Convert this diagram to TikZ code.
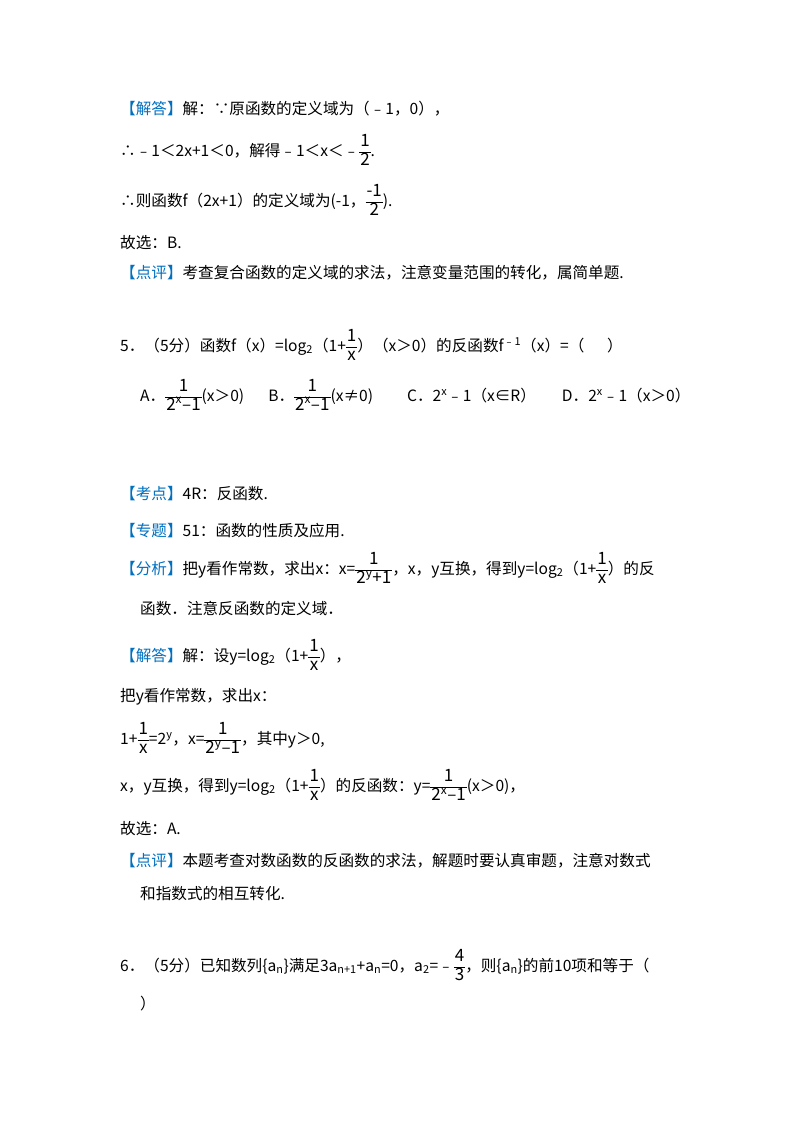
\documentclass[tikz,border=0pt]{standalone}
\usepackage{amsmath}
\usepackage{fontspec}
\setmainfont{Noto Sans CJK SC}
\definecolor{hb}{RGB}{0,112,192}
\newcommand{\hd}[1]{\textcolor{hb}{【#1】}}
\newcommand{\fr}[2]{$\vcenter{\hbox{\fontsize{17}{18}\selectfont\setlength{\tabcolsep}{1pt}\renewcommand{\arraystretch}{1.0}\begin{tabular}{c}#1\\\hline #2\end{tabular}}}$}
\begin{document}
\begin{tikzpicture}[x=1pt,y=1pt,every node/.style={anchor=base west,inner sep=0pt,font=\fontsize{15.6}{18}\selectfont}]
\useasboundingbox[fill=white] (0,0) rectangle (800,-1132);
\node (l1) at (120,-114) {\hd{解答}解：∵原函数的定义域为（﹣1，0），};
\node (l2) at (120,-156) {∴﹣1＜2x+1＜0，解得﹣1＜x＜﹣\fr{1}{2}.};
\node (l3) at (120,-206) {∴则函数f（2x+1）的定义域为(-1，\fr{-1}{2}).};
\node (l4) at (120,-248) {故选：B.};
\node (l5) at (120,-278) {\hd{点评}考查复合函数的定义域的求法，注意变量范围的转化，属简单题.};
\node (l6) at (120,-351) {5．（5分）函数f（x）=log\textsubscript{2}（1+\fr{1}{x}）（x＞0）的反函数f\textsuperscript{﹣1}（x）=（\quad\ \ ）};
\node (l7) at (140,-401) {A．\fr{1}{2\textsuperscript{x}–1}(x＞0)\hspace{24pt}B．\fr{1}{2\textsuperscript{x}–1}(x≠0)\hspace{34pt}C．2\textsuperscript{x}﹣1（x∈R）\hspace{26pt}D．2\textsuperscript{x}﹣1（x＞0）};
\node (l8) at (120,-499) {\hd{考点}4R：反函数.};
\node (l9) at (120,-536) {\hd{专题}51：函数的性质及应用.};
\node (l10) at (120,-574) {\hd{分析}把y看作常数，求出x：x=\fr{1}{2\textsuperscript{y}+1}，x，y互换，得到y=log\textsubscript{2}（1+\fr{1}{x}）的反};
\node (l11) at (140,-614) {函数．注意反函数的定义域．};
\node (l12) at (120,-661) {\hd{解答}解：设y=log\textsubscript{2}（1+\fr{1}{x}），};
\node (l13) at (120,-701) {把y看作常数，求出x：};
\node (l14) at (120,-744) {1+\fr{1}{x}=2\textsuperscript{y}，x=\fr{1}{2\textsuperscript{y}–1}，其中y＞0,};
\node (l15) at (120,-791) {x，y互换，得到y=log\textsubscript{2}（1+\fr{1}{x}）的反函数：y=\fr{1}{2\textsuperscript{x}–1}(x＞0)，};
\node (l16) at (120,-834) {故选：A.};
\node (l17) at (120,-866) {\hd{点评}本题考查对数函数的反函数的求法，解题时要认真审题，注意对数式};
\node (l18) at (140,-899) {和指数式的相互转化.};
\node (l19) at (120,-971) {6．（5分）已知数列\{a\textsubscript{n}\}满足3a\textsubscript{n+1}+a\textsubscript{n}=0，a\textsubscript{2}=﹣\fr{4}{3}，则\{a\textsubscript{n}\}的前10项和等于（};
\node (l20) at (140,-1009) {）};
\end{tikzpicture}
\end{document}
